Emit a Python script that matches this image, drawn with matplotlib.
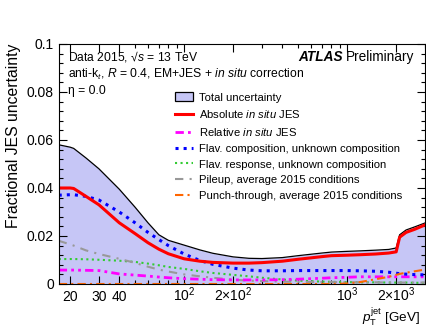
import matplotlib
matplotlib.use('Agg')
import matplotlib.pyplot as plt
from matplotlib.patches import Patch
from matplotlib.lines import Line2D
from matplotlib.ticker import FixedLocator, FixedFormatter, NullFormatter

plt.rcParams['font.family'] = ['Liberation Sans', 'DejaVu Sans']
plt.rcParams['mathtext.fontset'] = 'custom'
plt.rcParams['mathtext.rm'] = 'Liberation Sans'
plt.rcParams['mathtext.it'] = 'Liberation Sans:italic'
plt.rcParams['mathtext.bf'] = 'Liberation Sans:bold'

# jet pT points (GeV)
pt = [17, 20, 21, 25, 30, 40, 50, 60, 70, 80, 100, 125, 150, 200, 250, 300,
      400, 500, 700, 800, 1000, 1200, 1500, 1800, 2000, 2100, 2300, 2600, 3000]

total = [0.058, 0.057, 0.0565, 0.0525, 0.048, 0.0395, 0.032, 0.0255, 0.0205,
         0.0182, 0.0162, 0.0142, 0.0128, 0.0113, 0.0107, 0.0106, 0.0110,
         0.0118, 0.0129, 0.0133, 0.0136, 0.0138, 0.0141, 0.0144, 0.0150,
         0.0205, 0.0225, 0.0238, 0.0254]
absolute = [0.040, 0.040, 0.0398, 0.0365, 0.033, 0.0255, 0.021, 0.0172,
            0.0145, 0.0126, 0.0105, 0.0095, 0.0090, 0.0087, 0.0087, 0.0089,
            0.0095, 0.0103, 0.0114, 0.0118, 0.0120, 0.0122, 0.0125, 0.0129,
            0.0134, 0.0195, 0.0215, 0.0228, 0.0246]
relative = [0.0058, 0.0058, 0.0058, 0.0057, 0.0056, 0.0042, 0.0037, 0.0033,
            0.0029, 0.0026, 0.0022, 0.0020, 0.0018, 0.0017, 0.0017, 0.0017,
            0.0018, 0.0020, 0.0024, 0.0026, 0.0028, 0.0030, 0.0030, 0.0030,
            0.0030, 0.0030, 0.0030, 0.0030, 0.0030]
flav_comp = [0.037, 0.0372, 0.0372, 0.0365, 0.035, 0.030, 0.0255, 0.0215,
             0.0185, 0.016, 0.0125, 0.0098, 0.0082, 0.0066, 0.0058, 0.0055,
             0.0055, 0.0056, 0.0056, 0.0056, 0.0056, 0.0055, 0.0053, 0.0049,
             0.0045, 0.0043, 0.0041, 0.0039, 0.0038]
flav_resp = [0.0104, 0.0104, 0.0104, 0.0103, 0.0101, 0.0097, 0.0092, 0.0085,
             0.0078, 0.0071, 0.0063, 0.0053, 0.0046, 0.0038, 0.0032, 0.0026,
             0.0019, 0.0014, 0.0010, 0.0009, 0.0008, 0.0007, 0.0007, 0.0006,
             0.0006, 0.0006, 0.0006, 0.0005, 0.0005]
pileup = [0.018, 0.0165, 0.016, 0.014, 0.0125, 0.0105, 0.0088, 0.0072,
          0.0060, 0.0052, 0.0040, 0.0032, 0.0026, 0.0018, 0.0014, 0.0012,
          0.0010, 0.0009, 0.0008, 0.0008, 0.0007, 0.0007, 0.0007, 0.0006,
          0.0006, 0.0006, 0.0006, 0.0006, 0.0006]
punch = [0, 0, 0, 0, 0, 0, 0, 0, 0, 0, 0, 0, 0, 0, 0, 0, 0, 0, 0, 0,
         0.0002, 0.0008, 0.0020, 0.0030, 0.0038, 0.0042, 0.0047, 0.0053,
         0.0060]

x_labelled = [20, 30, 40, 100, 200, 1000, 2000]
x_labels = ['20', '30', '40', r'$10^{2}$', r'$2{\times}10^{2}$',
            r'$10^{3}$', r'$2{\times}10^{3}$']
x_minor = [50, 60, 70, 80, 90, 300, 400, 500, 600, 700, 800, 900, 3000]
y_ticks = [0, 0.02, 0.04, 0.06, 0.08, 0.1]
y_labels = ['0', '0.02', '0.04', '0.06', '0.08', '0.1']

fill_color = '#c6c6f6'


def main():
    fig = plt.figure(figsize=(4.27, 3.27), dpi=100)
    ax = fig.add_axes([0.1375, 0.1315, 0.8575, 0.734])

    ax.fill_between(pt, 0, total, color=fill_color, lw=0)
    ax.plot(pt, total, '-', color='k', lw=0.9)
    ax.plot(pt, flav_resp, ':', color='#33cc33', lw=1.5)
    ax.plot(pt, pileup, color='#999999', lw=1.5, dashes=(4, 3, 1, 3))
    ax.plot(pt, relative, color='#ff00ff', lw=2,
            dashes=(3, 1.5, 1, 1.5, 1, 1.5))
    ax.plot(pt, flav_comp, ':', color='#0000ff', lw=2.2)
    ax.plot(pt, punch, color='#ff6600', lw=1.5, dashes=(4, 2, 1, 2))
    ax.plot(pt, absolute, '-', color='#ff0000', lw=2.2)

    ax.set_xscale('log')
    ax.set_xlim(17, 3000)
    ax.set_ylim(0, 0.1)

    ax.xaxis.set_major_locator(FixedLocator(x_labelled))
    ax.xaxis.set_major_formatter(FixedFormatter(x_labels))
    ax.xaxis.set_minor_locator(FixedLocator(x_minor))
    ax.xaxis.set_minor_formatter(NullFormatter())
    ax.set_yticks(y_ticks)
    ax.set_yticklabels(y_labels)
    ax.yaxis.set_minor_locator(FixedLocator(
        [i * 0.004 for i in range(26)]))
    ax.yaxis.set_minor_formatter(NullFormatter())

    ax.tick_params(which='both', direction='in', top=True, right=True,
                   labelsize=10, width=0.8)
    ax.tick_params(which='major', length=6)
    ax.tick_params(which='minor', length=3)
    ax.tick_params(axis='x', which='major', pad=12.5)
    for s in ax.spines.values():
        s.set_linewidth(0.8)

    ax.set_ylabel('Fractional JES uncertainty', fontsize=11.3, loc='top')
    ax.set_xlabel(r'$p_{\mathrm{T}}^{\mathrm{jet}}$ [GeV]', fontsize=9.7,
                  ha='right')
    ax.xaxis.set_label_coords(0.987, -0.137)
    ax.xaxis.label.set_va('center')

    ax.text(0.025, 0.946, r'Data 2015, √$s$ = 13 TeV',
            transform=ax.transAxes, fontsize=8.7, va='center')
    ax.text(0.025, 0.875,
            r'anti-k$_{t}$, $R$ = 0.4, EM+JES + $\mathit{in\ situ}$ correction',
            transform=ax.transAxes, fontsize=8.7, va='center')
    ax.text(0.025, 0.804, 'η = 0.0', transform=ax.transAxes,
            fontsize=8.7, va='center')
    prelim = ax.text(0.972, 0.946, 'Preliminary', transform=ax.transAxes,
                     fontsize=9.8, va='center', ha='right')
    ax.annotate('ATLAS', xy=(0, 0.5), xycoords=prelim, xytext=(-2.5, 0),
                textcoords='offset points', fontsize=9.8, va='center',
                ha='right', fontweight='bold', fontstyle='italic')

    handles = [
        Patch(facecolor=fill_color, edgecolor='k', lw=0.9),
        Line2D([], [], color='#ff0000', lw=2.2),
        Line2D([], [], color='#ff00ff', lw=2, dashes=(3, 1.5, 1, 1.5, 1, 1.5)),
        Line2D([], [], color='#0000ff', lw=2.2, ls=':'),
        Line2D([], [], color='#33cc33', lw=1.5, ls=':'),
        Line2D([], [], color='#999999', lw=1.5, dashes=(4, 3, 1, 3)),
        Line2D([], [], color='#ff6600', lw=1.5, dashes=(4, 2, 1, 2)),
    ]
    labels = [
        'Total uncertainty',
        r'Absolute $\mathit{in\ situ}$ JES',
        r'Relative $\mathit{in\ situ}$ JES',
        'Flav. composition, unknown composition',
        'Flav. response, unknown composition',
        'Pileup, average 2015 conditions',
        'Punch-through, average 2015 conditions',
    ]
    ax.legend(handles, labels, loc='upper left',
              bbox_to_anchor=(0.318, 0.798), frameon=False, fontsize=8.1,
              handlelength=1.6, handleheight=0.8, handletextpad=0.5,
              labelspacing=0.5, borderaxespad=0, borderpad=0)

    for lbl in ax.get_xticklabels():
        lbl.set_va('baseline')

    fig.savefig('out.png', dpi=100)


if __name__ == '__main__':
    main()
